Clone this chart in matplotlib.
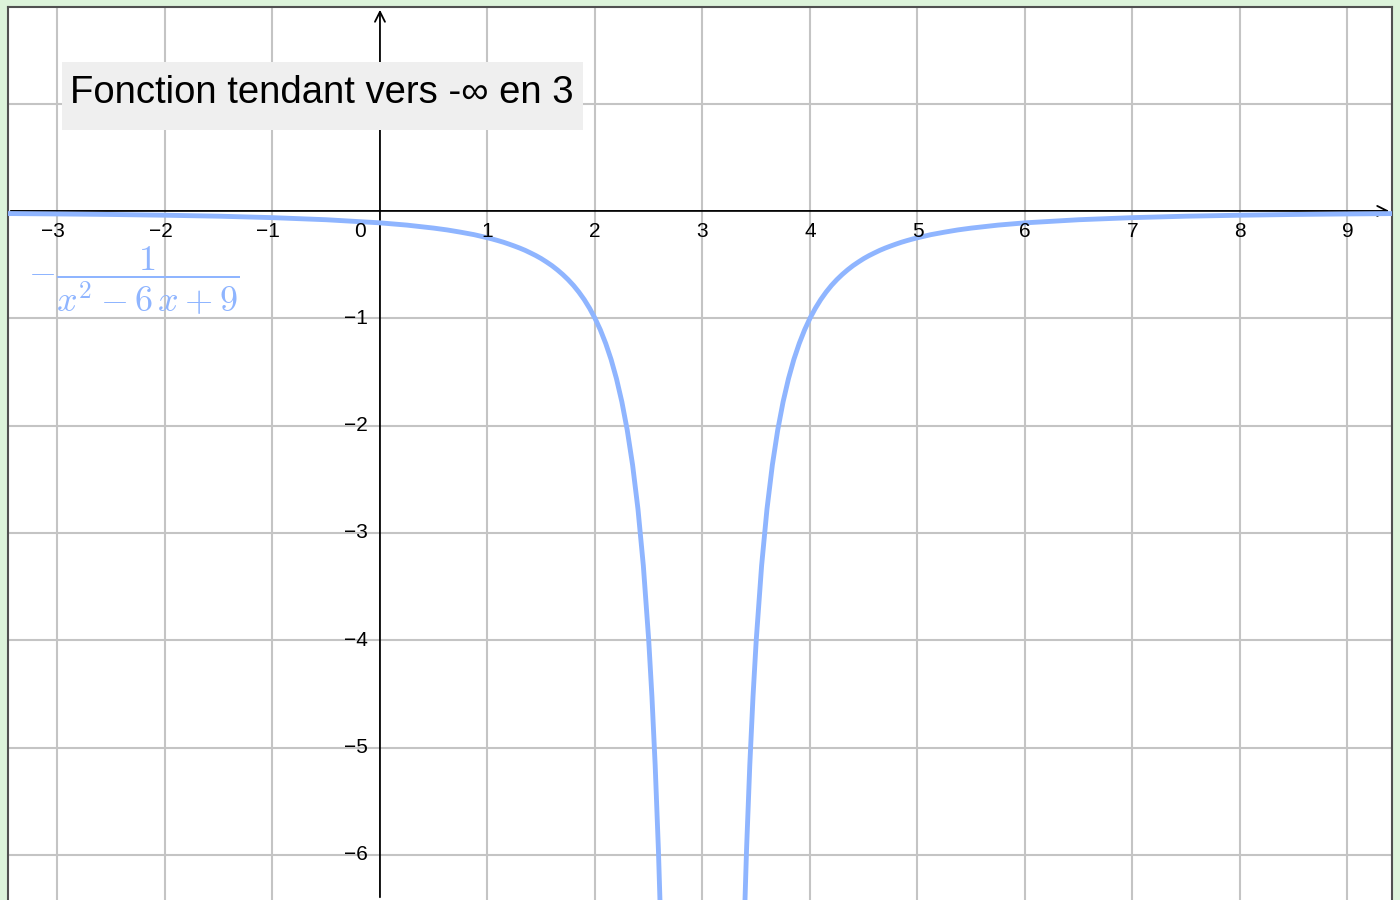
import matplotlib.pyplot as plt
from matplotlib.patches import Rectangle

# values: y = -1/(x^2 - 6x + 9)
left_x = [-3.5, -3.0, -2.5, -2.0, -1.5, -1.0, -0.5, 0.0, 0.25, 0.5, 0.625, 0.75, 0.875,
          1.0, 1.05, 1.1, 1.15, 1.2, 1.25, 1.3, 1.35, 1.4, 1.45, 1.5, 1.55, 1.6, 1.65,
          1.7, 1.75, 1.8, 1.85, 1.9, 1.95, 2.0, 2.05, 2.1, 2.15, 2.2, 2.25, 2.3, 2.35,
          2.4, 2.45, 2.5, 2.53, 2.56, 2.59, 2.62]
left_y = [-0.024, -0.028, -0.033, -0.040, -0.049, -0.0625, -0.082, -0.111, -0.132, -0.160,
          -0.177, -0.198, -0.221, -0.250, -0.263, -0.277, -0.292, -0.309, -0.327, -0.346,
          -0.367, -0.391, -0.416, -0.444, -0.476, -0.510, -0.549, -0.592, -0.640, -0.694,
          -0.756, -0.826, -0.907, -1.000, -1.108, -1.235, -1.384, -1.563, -1.778, -2.041,
          -2.367, -2.778, -3.306, -4.000, -4.527, -5.165, -5.949, -6.925]
right_x = [3.38, 3.41, 3.44, 3.47, 3.5, 3.55, 3.6, 3.65, 3.7, 3.75, 3.8, 3.85, 3.9, 3.95,
           4.0, 4.05, 4.1, 4.15, 4.2, 4.25, 4.3, 4.35, 4.4, 4.45, 4.5, 4.55, 4.6, 4.65,
           4.7, 4.75, 4.8, 4.85, 4.9, 4.95, 5.0, 5.125, 5.25, 5.375, 5.5, 5.75, 6.0,
           6.5, 7.0, 7.5, 8.0, 8.5, 9.0, 9.5]
right_y = [-6.925, -5.949, -5.165, -4.527, -4.000, -3.306, -2.778, -2.367, -2.041, -1.778,
           -1.563, -1.384, -1.235, -1.108, -1.000, -0.907, -0.826, -0.756, -0.694, -0.640,
           -0.592, -0.549, -0.510, -0.476, -0.444, -0.416, -0.391, -0.367, -0.346, -0.327,
           -0.309, -0.292, -0.277, -0.263, -0.250, -0.221, -0.198, -0.177, -0.160, -0.132,
           -0.111, -0.082, -0.0625, -0.049, -0.040, -0.033, -0.028, -0.024]

x_ticks = [-3, -2, -1, 1, 2, 3, 4, 5, 6, 7, 8, 9]
y_ticks = [-6, -5, -4, -3, -2, -1]
y_grid = [-6, -5, -4, -3, -2, -1, 1]

title = 'Fonction tendant vers -∞ en 3'
curve_label = r'$-\dfrac{1}{x^2-6\,x+9}$'

blue = '#8fb5ff'
plt.rcParams['font.family'] = ['Liberation Sans', 'DejaVu Sans']
plt.rcParams['mathtext.fontset'] = 'cm'

fig = plt.figure(figsize=(14, 9), dpi=100, facecolor='#dcf3da')
ax = fig.add_axes([8 / 1400, 0, 1384 / 1400, 893 / 900])
ax.set_facecolor('white')
ax.set_xlim(-3.46, 9.414)
ax.set_ylim(-6.42, 1.90)

# grid
for gx in x_ticks:
    ax.axvline(gx, color='#c4c4c4', lw=1.5, zorder=1)
for gy in y_grid:
    ax.axhline(gy, color='#c4c4c4', lw=1.5, zorder=1)

# axes with arrows
ax.annotate('', xy=(9.414, 0), xytext=(-3.46, 0),
            arrowprops=dict(arrowstyle='->', color='black', lw=1.3, mutation_scale=18), zorder=3)
ax.annotate('', xy=(0, 1.90), xytext=(0, -6.42),
            arrowprops=dict(arrowstyle='->', color='black', lw=1.3, mutation_scale=18), zorder=3)

ax.plot(left_x, left_y, color=blue, lw=3.5, solid_capstyle='round', zorder=4)
ax.plot(right_x, right_y, color=blue, lw=3.5, solid_capstyle='round', zorder=4)

# tick labels
for t in x_ticks:
    lab = str(t).replace('-', '\u2212')
    ax.text(t - (0.04 if t < 0 else 0), -0.19, lab, ha='center', va='center',
            fontsize=15, color='black', zorder=5)
ax.text(-0.19, -0.19, '0', ha='center', va='center', fontsize=15, zorder=5)
for t in y_ticks:
    ax.text(-0.11, t, str(t).replace('-', '\u2212'), ha='right', va='center',
            fontsize=15, color='black', zorder=5)

# title box
ax.add_patch(Rectangle((-2.958, 0.755), 4.846, 0.634, fc='#efefef', ec='none', zorder=5))
ax.text(-0.54, 1.10, title, ha='center', va='center', fontsize=27.5, color='black', zorder=6)

# curve label
ax.text(-3.27, -0.65, curve_label, ha='left', va='center', fontsize=26, color=blue, zorder=6)

for s in ax.spines.values():
    s.set_color('#505050')
    s.set_linewidth(1.5)
ax.spines['bottom'].set_visible(False)
ax.set_xticks([])
ax.set_yticks([])

fig.savefig('out.png', dpi=100, facecolor=fig.get_facecolor())
